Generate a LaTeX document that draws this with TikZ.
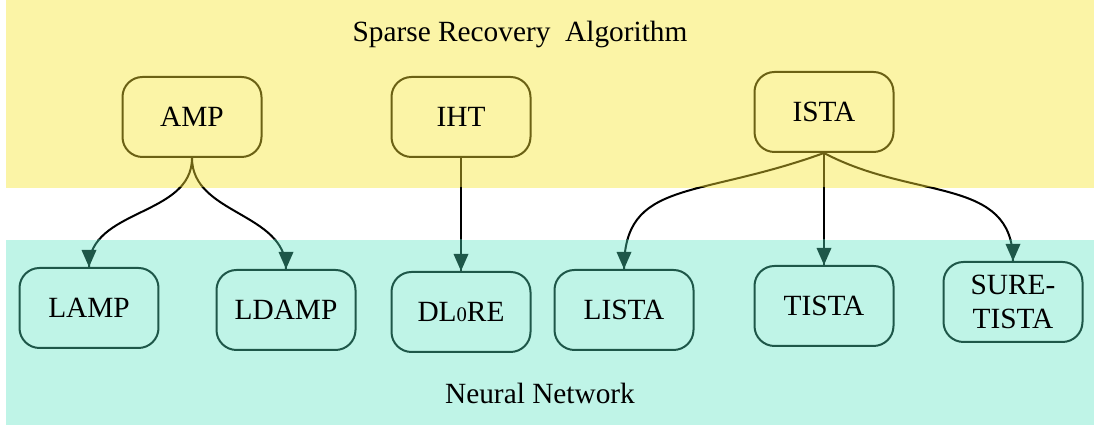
\documentclass[tikz,border=0pt]{standalone}
\usepackage{fontspec}
\setmainfont{Liberation Serif}
\usetikzlibrary{arrows.meta}

\definecolor{algfill}{HTML}{FBF4A6}
\definecolor{algline}{HTML}{6B6114}
\definecolor{netfill}{HTML}{BFF4E7}
\definecolor{netline}{HTML}{1E5749}

\tikzset{
  algbox/.style={draw=algline,fill=algfill,rounded corners=6pt,line width=0.6pt,
    minimum width=41.7pt,minimum height=24pt,align=center,font=\fontsize{8.8pt}{10pt}\selectfont},
  netbox/.style={algbox,draw=netline,fill=netfill},
  link/.style={line width=0.6pt}
}

\begin{document}
\begin{tikzpicture}[x=0.3pt,y=-0.3pt]
  \useasboundingbox (0,0) rectangle (1094,425);
  \fill[algfill] (6,0) rectangle (1094,188);
  \fill[netfill] (6,240) rectangle (1094,425);

  \node[font=\fontsize{8.8pt}{10pt}\selectfont] (alg) at (520,35) {Sparse Recovery~ Algorithm};
  \node[font=\fontsize{8.8pt}{10pt}\selectfont] (net) at (540,393) {Neural Network};

  \node[algbox] (amp)  at (192,117) {AMP};
  \node[algbox] (iht)  at (461,117) {IHT};
  \node[algbox] (ista) at (824,112) {ISTA};

  \node[netbox] (lamp)  at (89,308)   {LAMP};
  \node[netbox] (ldamp) at (286,310)  {LDAMP};
  \node[netbox] (dlre)  at (461,312)  {DL{\fontsize{6.2pt}{7pt}\selectfont 0}RE};
  \node[netbox] (lista) at (624,310)  {LISTA};
  \node[netbox] (tista) at (824,306)  {TISTA};
  \node[netbox] (sure)  at (1013,302) {SURE-\\TISTA};

  % edges change colour from band to band
  \foreach \clipA/\clipB/\col in {0/188/algline,188/240/black,240/425/netline} {
    \begin{scope}
      \clip (0,\clipA) rectangle (1094,\clipB);
      \foreach \from/\to/\out/\loose in {amp/lamp/-90/1,amp/ldamp/-90/1,iht/dlre/-90/1,ista/lista/-160/1.5,ista/tista/-90/1,ista/sure/-28/1.2}
        \draw[link,draw=\col] (\from.south) to[out=\out,in=90,out looseness=\loose] (\to.north);
    \end{scope}
  }
  \foreach \to in {lamp,ldamp,dlre,lista,tista,sure}
    \fill[netline] (\to.north) -- ++(-7.5,-17) -- ++(15,0) -- cycle;

\end{tikzpicture}
\end{document}
